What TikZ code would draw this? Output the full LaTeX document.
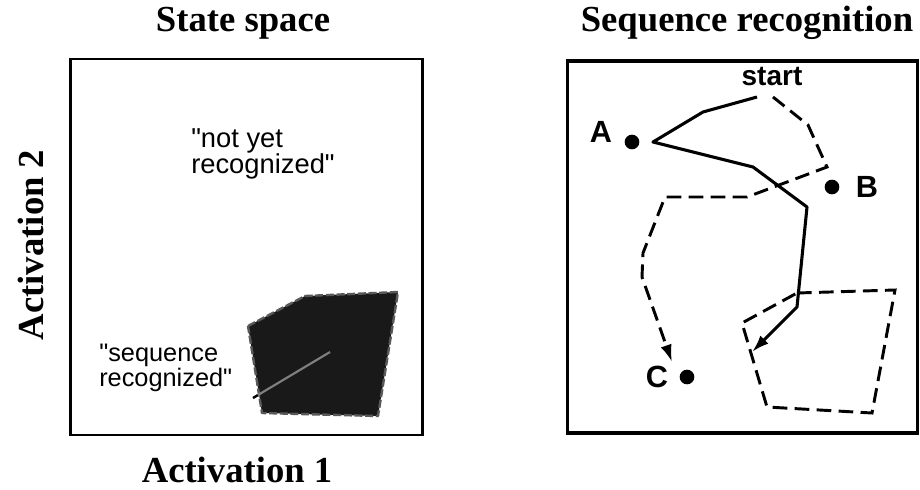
\documentclass[tikz,border=0pt]{standalone}
\usepackage{fontspec}
\setmainfont{Liberation Serif}
\newfontfamily\hv{Liberation Sans}
\usetikzlibrary{arrows.meta}
\begin{document}
\begin{tikzpicture}[x=0.75pt,y=-0.75pt,
  title/.style={font=\fontsize{27.5}{30}\selectfont\bfseries\rmfamily, inner sep=0pt},
  quote/.style={font=\fontsize{20.5}{19.5}\selectfont\hv, align=left, inner sep=0pt, anchor=north west},
  letter/.style={font=\fontsize{23}{23}\selectfont\hv\bfseries, inner sep=0pt},
  dot/.style={circle, fill=black, inner sep=0pt, minimum size=11pt},
  frame/.style={draw=black, line width=1.6pt},
  traj/.style={line width=2.3pt, line join=round},
  dtraj/.style={line width=2.2pt, dash pattern=on 11pt off 5.5pt},
  tip/.style={-{Latex[length=13pt,width=8.5pt]}}
]
\useasboundingbox (0,0) rectangle (920,489);

% ---------- left panel ----------
\node[title] (t1) at (243,23) {State space};
\node[frame, minimum width=264pt, minimum height=282pt, inner sep=0pt] (box1) at (246.5,247) {};
\node[title] (ax1) at (237,470) {Activation 1};
\node[title, rotate=90] (ax2) at (31,245) {Activation 2};

\node[quote] (nyr) at (191,128) {"not yet\\recognized"};

\coordinate (r1) at (248,326);
\coordinate (r2) at (305,296);
\coordinate (r3) at (398,292);
\coordinate (r4) at (378,416);
\coordinate (r5) at (262,413);
\fill[black!90] (r1) -- (r2) -- (r3) -- (r4) -- (r5) -- cycle;
\draw[black!65, line width=1.8pt, dash pattern=on 6pt off 2pt, line join=round]
  (r1) -- (r2) -- (r3) -- (r4) -- (r5) -- cycle;

\node[quote, font=\fontsize{19}{18.5}\selectfont\hv] (sr) at (99,344) {"sequence\\recognized"};
\coordinate (p0) at (253,398);
\coordinate (p1) at (258,395);
\coordinate (p2) at (330,352);
\draw[line width=1.8pt] (p0) -- (p1);
\draw[black!50, line width=1.6pt] (p1) -- (p2);

% ---------- right panel ----------
\node[title] (t2) at (747,23) {Sequence recognition};
\node[draw=black, line width=2.3pt, minimum width=262pt, minimum height=279pt, inner sep=0pt] (box2) at (742.5,247) {};

\node[font=\fontsize{21}{21}\selectfont\hv\bfseries, inner sep=0pt] (start) at (772,77) {start};
\node[dot] (dA) at (632,142) {};
\node[letter] (lA) at (601,132) {A};
\node[dot] (dB) at (832,187) {};
\node[letter] (lB) at (867,187) {B};
\node[dot] (dC) at (687,377) {};
\node[letter] (lC) at (657,377) {C};

% solid trajectory
\coordinate (s0) at (757,97);
\coordinate (s1) at (703,112);
\coordinate (s2) at (653,142);
\coordinate (s3) at (753,167);
\coordinate (s4) at (807,207);
\coordinate (s5) at (797,307);
\coordinate (s6) at (752,352);
\draw[traj, tip] (s0) -- (s1) -- (s2) -- (s3) -- (s4) -- (s5) -- (s6);

% dashed trajectory
\coordinate (d0) at (773,97);
\coordinate (d1) at (808,125);
\coordinate (d2) at (827,167);
\coordinate (d3) at (747,197);
\coordinate (d4) at (665,197);
\coordinate (d5) at (643,253);
\coordinate (d6) at (642,277);
\coordinate (d7) at (672,362);
\draw[dtraj, tip] (d0) -- (d1) -- (d2) -- (d3) -- (d4) -- (d5) -- (d6) -- (d7);

% dashed region
\coordinate (q1) at (797,293);
\coordinate (q2) at (895,290);
\coordinate (q3) at (872,413);
\coordinate (q4) at (767,407);
\coordinate (q5) at (742,323);
\draw[dtraj] (q1) -- (q2) -- (q3) -- (q4) -- (q5) -- cycle;
\end{tikzpicture}
\end{document}
